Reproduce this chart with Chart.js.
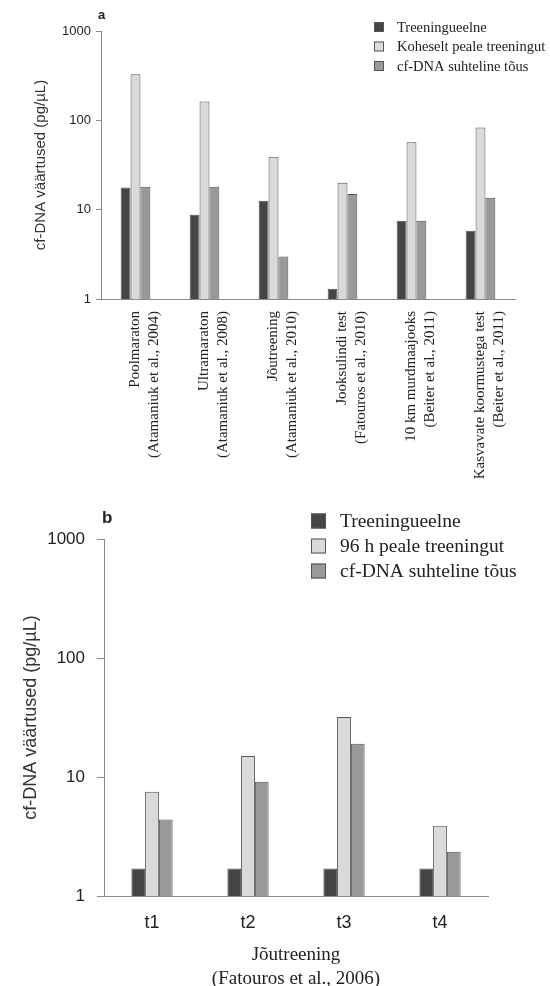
<!DOCTYPE html>
<html>
<head>
<meta charset="utf-8">
<script src="https://cdn.jsdelivr.net/npm/chart.js@4.4.0/dist/chart.umd.min.js"></script>
<style>
  html, body { margin: 0; padding: 0; background: #fff; }
  #wrap { position: relative; width: 550px; height: 986px; }
  #wrapA { position: absolute; left: 0; top: 0; width: 550px; height: 500px; }
  #wrapB { position: absolute; left: 0; top: 500px; width: 550px; height: 486px; }
</style>
</head>
<body>
<div id="wrap">
  <div id="wrapA"><canvas id="chartA"></canvas></div>
  <div id="wrapB"><canvas id="chartB"></canvas></div>
</div>
<script>
// paneel a - andmed
var kategooriadA = [
  ['Poolmaraton', '(Atamaniuk et al., 2004)'],
  ['Ultramaraton', '(Atamaniuk et al., 2008)'],
  ['Jõutreening', '(Atamaniuk et al., 2010)'],
  ['Jooksulindi test', '(Fatouros et al., 2010)'],
  ['10 km murdmaajooks', '(Beiter et al., 2011)'],
  ['Kasvavate koormustega test', '(Beiter et al., 2011)']
];
var enneA = [17.7, 8.8, 12.6, 1.3, 7.5, 5.8];
var kohePealeA = [329, 163, 39, 20, 57, 83];
var tousA = [18, 18, 3.0, 15, 7.5, 13.6];
var seeriadA = ['Treeningueelne', 'Koheselt peale treeningut', 'cf-DNA suhteline tõus'];

// paneel b - andmed
var kategooriadB = ['t1', 't2', 't3', 't4'];
var enneB = [1.7, 1.7, 1.7, 1.7];
var pealeB = [7.5, 15, 32, 3.9];
var tousB = [4.4, 9.1, 19, 2.35];
var seeriadB = ['Treeningueelne', '96 h peale treeningut', 'cf-DNA suhteline tõus'];

var yTicks = [1, 10, 100, 1000];
var yPealkiri = 'cf-DNA väärtused (pg/µL)';
var xPealkiriB = ['Jõutreening', '(Fatouros et al., 2006)'];

var varvid = ['#454545', '#dadada', '#999999'];
var serif = '"Liberation Serif", "DejaVu Serif", serif';
var sans = '"Liberation Sans", Arial, sans-serif';

// legend + paneeli täht
var kirjadPlugin = {
  id: 'kirjad',
  afterDraw: function(chart, args, opts) {
    var ctx = chart.ctx;
    ctx.save();
    // paneeli täht
    ctx.font = 'bold ' + opts.letterSize + 'px ' + sans;
    ctx.fillStyle = '#222';
    ctx.textBaseline = 'middle';
    ctx.textAlign = 'left';
    ctx.fillText(opts.letter, opts.letterX, opts.letterY);
    // legend
    ctx.font = opts.size + 'px ' + serif;
    chart.data.datasets.forEach(function(ds, i) {
      var y = opts.y + i * opts.step;
      ctx.fillStyle = ds.backgroundColor;
      ctx.fillRect(opts.x, y - opts.box / 2, opts.box, opts.box);
      ctx.strokeStyle = '#555';
      ctx.lineWidth = 1;
      ctx.strokeRect(opts.x + 0.5, y - opts.box / 2 + 0.5, opts.box - 1, opts.box - 1);
      ctx.fillStyle = '#222';
      ctx.fillText(ds.label, opts.x + opts.box + opts.gap, y + 1);
    });
    ctx.restore();
  }
};

function teeDatasetid(nimed, andmed) {
  return nimed.map(function(n, i) {
    return {
      label: n,
      data: andmed[i],
      backgroundColor: varvid[i],
      borderColor: '#555',
      borderWidth: 1,
      barPercentage: 1.0,
      categoryPercentage: 0.43
    };
  });
}

function teeGraafik(id, k) {
  return new Chart(document.getElementById(id), {
    type: 'bar',
    data: { labels: k.labels, datasets: k.datasets },
    plugins: [kirjadPlugin],
    options: {
      responsive: true,
      maintainAspectRatio: false,
      animation: false,
      layout: { padding: { left: 0, top: k.top, right: k.right, bottom: 0 } },
      plugins: {
        legend: { display: false },
        tooltip: { enabled: false },
        kirjad: k.kirjad
      },
      scales: {
        x: {
          grid: { display: false },
          border: { color: '#8a8a8a', width: 1 },
          ticks: {
            color: '#222',
            font: k.xFont,
            minRotation: k.rot,
            maxRotation: k.rot,
            autoSkip: false,
            padding: k.xPad
          },
          title: k.xTitle,
          afterFit: function(s) { s.height = k.xHeight; }
        },
        y: {
          type: 'logarithmic',
          min: 1,
          max: 1000,
          grid: { drawOnChartArea: false, drawTicks: true, tickLength: k.tickLen, color: '#8a8a8a' },
          border: { color: '#8a8a8a', width: 1 },
          ticks: {
            color: '#222',
            font: { family: sans, size: k.ySize },
            padding: k.yPad,
            callback: function(v) { return String(v); }
          },
          afterBuildTicks: function(s) {
            s.ticks = yTicks.map(function(v) { return { value: v }; });
          },
          title: {
            display: true,
            text: yPealkiri,
            color: '#333',
            font: { family: sans, size: k.yTitleSize },
            padding: { top: k.yTitlePad, bottom: 0 }
          },
          afterFit: function(s) { s.width = k.yWidth; }
        }
      }
    }
  });
}

// paneel a
teeGraafik('chartA', {
  labels: kategooriadA,
  datasets: teeDatasetid(seeriadA, [enneA, kohePealeA, tousA]),
  top: 31, right: 35, xHeight: 201, yWidth: 101,
  rot: 90, xPad: 4,
  xFont: { family: serif, size: 15, lineHeight: 1.27 },
  xTitle: { display: false },
  ySize: 13, yPad: 5, tickLen: 5,
  yTitleSize: 15, yTitlePad: 32,
  kirjad: { letter: 'a', letterX: 98, letterY: 15, letterSize: 13,
            x: 374, y: 27, step: 19.5, box: 10, gap: 13, size: 14.5 }
});

// paneel b
teeGraafik('chartB', {
  labels: kategooriadB,
  datasets: teeDatasetid(seeriadB, [enneB, pealeB, tousB]),
  top: 39, right: 62, xHeight: 90, yWidth: 104,
  rot: 0, xPad: 8,
  xFont: { family: sans, size: 18 },
  xTitle: {
    display: true,
    text: xPealkiriB,
    color: '#222',
    font: { family: serif, size: 19, lineHeight: 1.26 },
    padding: { top: 20, bottom: -5 }
  },
  ySize: 17, yPad: 12, tickLen: 7,
  yTitleSize: 18, yTitlePad: 20,
  kirjad: { letter: 'b', letterX: 102, letterY: 18, letterSize: 17,
            x: 311, y: 21, step: 25, box: 15, gap: 14, size: 19.5 }
});
</script>
</body>
</html>
